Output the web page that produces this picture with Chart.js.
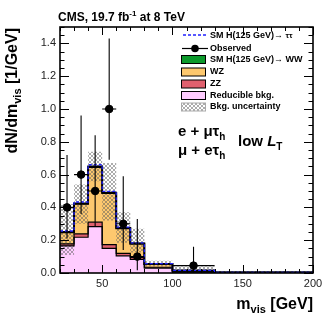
<!DOCTYPE html>
<html>
<head>
<meta charset="utf-8">
<script src="https://cdn.jsdelivr.net/npm/chart.js@4.4.1/dist/chart.umd.min.js"></script>
<style>
  html, body { margin: 0; padding: 0; background: #fff; }
  #wrap { width: 332px; height: 322px; }
</style>
</head>
<body>
<div id="wrap"><canvas id="myChart"></canvas></div>
<script>
/* histogram bins (GeV) and stacked backgrounds, per bin, in 1/GeV */
const binEdges = [20, 30, 40, 50, 60, 70, 80, 100, 130, 200];
const reducible = [0.165, 0.218, 0.283, 0.150, 0.105, 0.083, 0.030, 0.005, 0.001];
const zz = [0.012, 0.020, 0.027, 0.023, 0.015, 0.012, 0.005, 0.002, 0.001];
const wz = [0.071, 0.184, 0.336, 0.314, 0.153, 0.084, 0.019, 0.008, 0.002];
const ww = [0.002, 0.003, 0.004, 0.003, 0.002, 0.001, 0.001, 0.000, 0.000];
const htt = [0.006, 0.008, 0.010, 0.008, 0.005, 0.004, 0.002, 0.001, 0.000];
const bkgUncLow = [0.110, 0.300, 0.560, 0.320, 0.185, 0.125, 0.040, 0.003, 0.000];
const bkgUncHigh = [0.420, 0.540, 0.740, 0.670, 0.370, 0.270, 0.075, 0.040, 0.012];

/* observed data */
const obsMass = [25, 35, 45, 55, 65, 75, 115];
const obsValues = [0.40, 0.60, 0.50, 1.00, 0.30, 0.10, 0.045];
const obsErrLow = [0.21, 0.36, 0.28, 0.69, 0.14, 0.017, 0.005];
const obsErrHigh = [0.72, 0.96, 0.84, 1.43, 0.59, 0.33, 0.16];

/* axis ticks */
const xTicks = [50, 100, 150, 200];
const yTicks = [0.0, 0.2, 0.4, 0.6, 0.8, 1.0, 1.2, 1.4];

const FONT = '"Liberation Sans", Arial, Helvetica, sans-serif';

/* points at every bin's left edge, last value repeated at the right end */
function histPoints(vals) {
  return binEdges.map(function(e, i) {
    return { x: e, y: vals[Math.min(i, vals.length - 1)] };
  });
}
function addUp(a, b) {
  return a.map(function(v, i) { return v + b[i]; });
}

const c1 = reducible;
const c2 = addUp(c1, zz);
const c3 = addUp(c2, wz);
const c4 = addUp(c3, ww);
const c5 = addUp(c4, htt);

/* grey cross hatch like ROOT's uncertainty band */
function makeHatch() {
  const c = document.createElement('canvas');
  c.width = 4; c.height = 4;
  const g = c.getContext('2d');
  g.fillStyle = 'rgba(90,90,90,0.5)';
  for (let i = 0; i < 4; i++) {
    g.fillRect(i, i, 1, 1);
    g.fillRect(3 - i, i, 1, 1);
  }
  return g.createPattern(c, 'repeat');
}
const hatch = makeHatch();

function stepLine(label, data, opts) {
  return Object.assign({
    label: label,
    data: histPoints(data),
    stepped: 'before',
    pointRadius: 0,
    borderColor: '#000',
    borderWidth: 1.2,
    tension: 0,
  }, opts);
}

/* text made of several runs (for sub/superscripts) */
function richText(ctx, parts, x, y, align) {
  let w = 0;
  parts.forEach(function(p) {
    ctx.font = p.font;
    p.w = ctx.measureText(p.t).width;
    w += p.w;
  });
  let cx = align === 'right' ? x - w : x;
  ctx.textAlign = 'left';
  ctx.textBaseline = 'alphabetic';
  parts.forEach(function(p) {
    ctx.font = p.font;
    ctx.fillText(p.t, cx, y + (p.dy || 0));
    cx += p.w;
  });
}

/* frame, inside ticks, error bars, titles and legend */
const decorations = {
  id: 'decorations',
  afterDatasetsDraw: function(chart) {
    const ctx = chart.ctx;
    const xs = chart.scales.x, ys = chart.scales.y;

    /* observed error bars */
    ctx.save();
    ctx.strokeStyle = '#000';
    ctx.lineWidth = 1.1;
    obsMass.forEach(function(m, i) {
      let k = 0;
      while (k < binEdges.length - 2 && binEdges[k + 1] <= m) k++;
      const px = xs.getPixelForValue(m);
      const py = ys.getPixelForValue(obsValues[i]);
      ctx.beginPath();
      ctx.moveTo(px, ys.getPixelForValue(obsErrLow[i]));
      ctx.lineTo(px, ys.getPixelForValue(obsErrHigh[i]));
      ctx.moveTo(xs.getPixelForValue(binEdges[k]), py);
      ctx.lineTo(xs.getPixelForValue(binEdges[k + 1]), py);
      ctx.stroke();
    });
    ctx.restore();
  },
  afterDraw: function(chart) {
    const ctx = chart.ctx;
    const xs = chart.scales.x, ys = chart.scales.y;
    const a = chart.chartArea;
    ctx.save();
    ctx.strokeStyle = '#000';
    ctx.fillStyle = '#000';

    /* ticks */
    ctx.lineWidth = 1;
    ctx.beginPath();
    for (let v = 20; v <= 200; v += 10) {
      const px = Math.round(xs.getPixelForValue(v)) + 0.5;
      const len = v % 50 === 0 ? 8 : 4;
      ctx.moveTo(px, a.bottom); ctx.lineTo(px, a.bottom - len);
      ctx.moveTo(px, a.top); ctx.lineTo(px, a.top + len);
    }
    for (let j = 0; j <= 30; j++) {
      const v = j * 0.05;
      const py = Math.round(ys.getPixelForValue(v)) + 0.5;
      const len = j % 4 === 0 ? 9 : 4.5;
      ctx.moveTo(a.left, py); ctx.lineTo(a.left + len, py);
      ctx.moveTo(a.right, py); ctx.lineTo(a.right - len, py);
    }
    ctx.stroke();

    /* frame */
    ctx.lineWidth = 1.6;
    ctx.strokeRect(a.left, a.top, a.right - a.left, a.bottom - a.top);

    /* header */
    richText(ctx, [
      { t: 'CMS, 19.7 fb', font: 'bold 12px ' + FONT },
      { t: '-1', font: 'bold 8px ' + FONT, dy: -5 },
      { t: ' at 8 TeV', font: 'bold 12px ' + FONT },
    ], 58, 21, 'left');

    /* x title */
    richText(ctx, [
      { t: 'm', font: 'bold 16px ' + FONT },
      { t: 'vis', font: 'bold 11px ' + FONT, dy: 4 },
      { t: ' [GeV]', font: 'bold 16px ' + FONT },
    ], 313, 309, 'right');

    /* y title */
    ctx.save();
    ctx.translate(17, 0);
    ctx.rotate(-Math.PI / 2);
    richText(ctx, [
      { t: 'dN/dm', font: 'bold 16px ' + FONT },
      { t: 'vis', font: 'bold 11px ' + FONT, dy: 4 },
      { t: ' [1/GeV]', font: 'bold 16px ' + FONT },
    ], -28, 0, 'right');
    ctx.restore();

    /* channel labels */
    richText(ctx, [
      { t: 'e + \u03bc\u03c4', font: 'bold 15px ' + FONT },
      { t: 'h', font: 'bold 10px ' + FONT, dy: 4 },
    ], 178, 136, 'left');
    richText(ctx, [
      { t: '\u03bc + e\u03c4', font: 'bold 15px ' + FONT },
      { t: 'h', font: 'bold 10px ' + FONT, dy: 4 },
    ], 178, 155, 'left');
    richText(ctx, [
      { t: 'low ', font: 'bold 15px ' + FONT },
      { t: 'L', font: 'italic bold 15px ' + FONT },
      { t: 'T', font: 'bold 10px ' + FONT, dy: 4 },
    ], 238, 146, 'left');

    /* legend */
    const rows = [35, 48.5, 59.5, 72, 84, 95.5, 107];
    const tx = 210;
    ctx.font = 'bold 9px ' + FONT;
    ctx.textBaseline = 'middle';
    ctx.textAlign = 'left';

    ctx.save();
    ctx.strokeStyle = '#2222ff';
    ctx.lineWidth = 1.5;
    ctx.setLineDash([3, 2]);
    ctx.beginPath(); ctx.moveTo(183, rows[0]); ctx.lineTo(206, rows[0]); ctx.stroke();
    ctx.restore();
    richText(ctx, [
      { t: 'SM H(125 GeV)\u2192 ', font: 'bold 9px ' + FONT },
      { t: '\u03c4\u03c4', font: 'bold 8px ' + FONT },
    ], tx, rows[0] + 3, 'left');

    ctx.lineWidth = 1.2;
    ctx.beginPath(); ctx.moveTo(182, rows[1]); ctx.lineTo(208, rows[1]); ctx.stroke();
    ctx.beginPath(); ctx.arc(195, rows[1], 3.8, 0, Math.PI * 2); ctx.fill();
    ctx.textBaseline = 'middle';
    ctx.font = 'bold 9px ' + FONT;
    ctx.fillText('Observed', tx, rows[1]);

    const boxes = [
      ['SM H(125 GeV)\u2192 WW', '#0c9a2c'],
      ['WZ', '#fdc86e'],
      ['ZZ', '#e0606e'],
      ['Reducible bkg.', '#ffccff'],
      ['Bkg. uncertainty', hatch],
    ];
    boxes.forEach(function(b, i) {
      const y = rows[i + 2];
      ctx.fillStyle = b[1];
      ctx.fillRect(181, y - 4, 24, 8);
      ctx.lineWidth = 1;
      ctx.strokeStyle = i === 4 ? '#aaa' : '#000';
      ctx.strokeRect(181.5, y - 4, 24, 8);
      ctx.fillStyle = '#000';
      ctx.textBaseline = 'middle';
      ctx.font = 'bold 9px ' + FONT;
      ctx.fillText(b[0], tx, y);
    });
    ctx.restore();
  }
};

const ctx = document.getElementById('myChart').getContext('2d');

const chart = new Chart(ctx, {
  type: 'line',
  data: {
    datasets: [
      stepLine('Reducible bkg.', c1, { fill: 'origin', backgroundColor: '#ffccff', order: 10 }),
      stepLine('ZZ', c2, { fill: '-1', backgroundColor: '#e0606e', order: 9 }),
      stepLine('WZ', c3, { fill: '-1', backgroundColor: '#fdc86e', order: 8, borderWidth: 1.8 }),
      stepLine('SM H(125 GeV) WW', c4, { fill: '-1', backgroundColor: '#0c9a2c', order: 7, borderWidth: 1.8 }),
      stepLine('Bkg. uncertainty', bkgUncHigh, { fill: '+1', backgroundColor: hatch, borderColor: 'rgba(0,0,0,0)', order: 6 }),
      stepLine('unc low', bkgUncLow, { fill: false, borderColor: 'rgba(0,0,0,0)', order: 6 }),
      stepLine('SM H(125 GeV) tautau', c5, { fill: false, borderColor: '#2222ff', borderWidth: 1.3, borderDash: [3, 2], order: 5 }),
      {
        label: 'Observed',
        data: obsMass.map(function(m, i) { return { x: m, y: obsValues[i] }; }),
        showLine: false,
        pointRadius: 3.8,
        pointBackgroundColor: '#000',
        pointBorderColor: '#000',
        order: 1,
      },
    ],
  },
  options: {
    responsive: true,
    maintainAspectRatio: false,
    animation: false,
    devicePixelRatio: 1,
    layout: { padding: { left: 0, right: 19, top: 27, bottom: 0 } },
    plugins: {
      legend: { display: false },
      tooltip: { enabled: false },
      filler: { drawTime: 'beforeDatasetsDraw' },
    },
    scales: {
      x: {
        type: 'linear',
        min: 20,
        max: 200,
        grid: { display: false, drawTicks: false },
        border: { display: false },
        afterBuildTicks: function(s) { s.ticks = xTicks.map(function(v) { return { value: v }; }); },
        afterFit: function(s) { s.height = 49; },
        ticks: { color: '#222', font: { family: FONT, size: 11 }, padding: 4, maxRotation: 0 },
      },
      y: {
        min: 0,
        max: 1.5,
        grid: { display: false, drawTicks: false },
        border: { display: false },
        afterBuildTicks: function(s) { s.ticks = yTicks.map(function(v) { return { value: v }; }); },
        afterFit: function(s) { s.width = 60; },
        ticks: {
          color: '#222', font: { family: FONT, size: 11 }, padding: 4,
          callback: function(v) { return Number(v).toFixed(1); },
        },
      },
    },
  },
  plugins: [decorations],
});
</script>
</body>
</html>
